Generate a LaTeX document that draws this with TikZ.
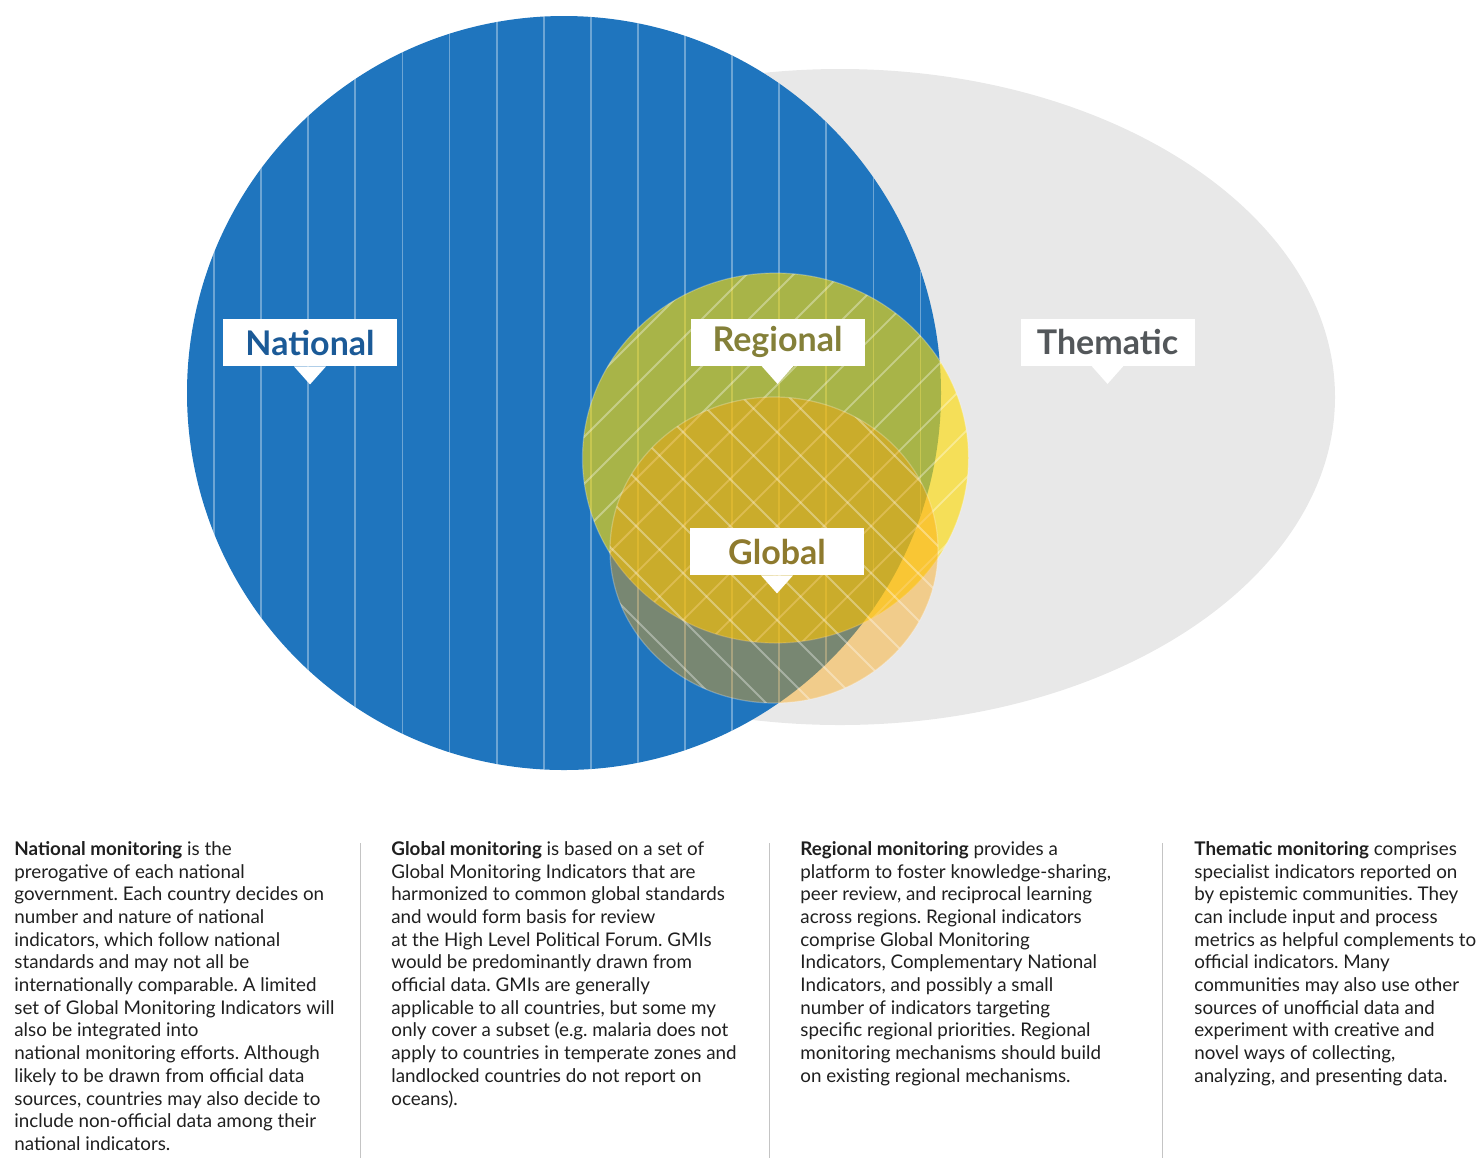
\documentclass[tikz,border=0pt]{standalone}
\usepackage{fontspec}
\setmainfont{Lato}
\usepackage{tikz}
\usetikzlibrary{positioning,calc}
\definecolor{natBlue}{HTML}{1F75BE}
\definecolor{natText}{HTML}{1B5A97}
\definecolor{thmGrey}{HTML}{E8E8E8}
\definecolor{thmText}{HTML}{53575A}
\definecolor{regYellow}{HTML}{FDDB00}
\definecolor{gloOrange}{HTML}{FFA200}
\definecolor{regText}{HTML}{848039}
\definecolor{gloText}{HTML}{8E7A2E}
\definecolor{sepGrey}{HTML}{C4C4C4}
\newcommand\tagtip[1]{\fill[white] ([xshift=-8pt]#1.south) -- ([xshift=8pt]#1.south) -- ([yshift=-9pt]#1.south) -- cycle;}
\frenchspacing

\begin{document}
\begin{tikzpicture}[x=0.5pt, y=-0.5pt,
  tag/.style={fill=white, minimum width=87pt, minimum height=23.5pt, inner sep=0pt, font=\fontsize{17}{20}\selectfont\bfseries},
  hatch/.style={white, opacity=0.35, line width=0.9pt},
  rim/.style={white, opacity=0.25, line width=0.6pt},
  blurb/.style={anchor=north west, inner sep=0pt, align=left, text=black!88, font=\fontsize{9.4}{11.35}\selectfont},
  sep/.style={draw=sepGrey, line width=0.5pt}]
\useasboundingbox (0,0) rectangle (1483,1169);
\coordinate (thmC) at (840,397);
\coordinate (natC) at (564,393);
\coordinate (regC) at (775.5,458);
\coordinate (gloC) at (774,550);
% --- thematic: grey ellipse ---
\fill[thmGrey] (thmC) ellipse [x radius=247.5pt, y radius=164pt];
% --- national: blue circle, vertical stripes ---
\fill[natBlue] (natC) circle [radius=188.5pt];
\begin{scope}
  \clip (natC) circle [radius=188.5pt];
  \foreach \k in {0,...,15} \draw[hatch] (214+47.1*\k,0) -- (214+47.1*\k,800);
\end{scope}
% --- regional: yellow circle, / stripes ---
\fill[regYellow, opacity=0.62] (regC) ellipse [x radius=96.5pt, y radius=92.5pt];
\begin{scope}
  \clip (regC) ellipse [x radius=96.5pt, y radius=92.5pt];
  \foreach \k in {-6,...,7} {
    \pgfmathsetmacro\c{1209+47*\k}
    \draw[hatch] (\c-700,700) -- (\c-200,200);
  }
\end{scope}
\draw[rim] (regC) ellipse [x radius=96.5pt, y radius=92.5pt];
% --- global: orange ellipse, \ stripes ---
\fill[gloOrange, opacity=0.4] (gloC) ellipse [x radius=82pt, y radius=76.5pt];
\begin{scope}
  \clip (gloC) ellipse [x radius=82pt, y radius=76.5pt];
  \foreach \k in {-8,...,3} {
    \pgfmathsetmacro\c{345+47*\k}
    \draw[hatch] (\c+300,300) -- (\c+800,800);
  }
\end{scope}
\draw[rim] (gloC) ellipse [x radius=82pt, y radius=76.5pt];
% --- tags ---
\node[tag, text=natText] (nat) at (310,342.5) {National};
\tagtip{nat}
\node[tag, text=regText] (reg) at (777.5,342) {Regional};
\tagtip{reg}
\node[tag, text=gloText] (glo) at (777,551.5) {Global};
\tagtip{glo}
\node[tag, text=thmText] (thm) at (1107.5,342) {Thematic};
\tagtip{thm}
% --- texts ---
\node[blurb] (natTxt) at (14,841) {\textbf{National monitoring} is the\\
prerogative of each national\\
government. Each country decides on\\
number and nature of national\\
indicators, which follow national\\
standards and may not all be\\
internationally comparable. A limited\\
set of Global Monitoring Indicators will\\
also be integrated into\\
national monitoring efforts. Although\\
likely to be drawn from official data\\
sources, countries may also decide to\\
include non-official data among their\\
national indicators.};
\node[blurb] (gloTxt) at (391,841) {\textbf{Global monitoring} is based on a set of\\
Global Monitoring Indicators that are\\
harmonized to common global standards\\
and would form basis for review\\
at the High Level Political Forum. GMIs\\
would be predominantly drawn from\\
official data. GMIs are generally\\
applicable to all countries, but some my\\
only cover a subset (e.g. malaria does not\\
apply to countries in temperate zones and\\
landlocked countries do not report on\\
oceans).};
\node[blurb] (regTxt) at (800,841) {\textbf{Regional monitoring} provides a\\
platform to foster knowledge-sharing,\\
peer review, and reciprocal learning\\
across regions. Regional indicators\\
comprise Global Monitoring\\
Indicators, Complementary National\\
Indicators, and possibly a small\\
number of indicators targeting\\
specific regional priorities. Regional\\
monitoring mechanisms should build\\
on existing regional mechanisms.};
\node[blurb] (thmTxt) at (1194,841) {\textbf{Thematic monitoring} comprises\\
specialist indicators reported on\\
by epistemic communities. They\\
can include input and process\\
metrics as helpful complements to\\
official indicators. Many\\
communities may also use other\\
sources of unofficial data and\\
experiment with creative and\\
novel ways of collecting,\\
analyzing, and presenting data.};
% --- separators ---
\draw[sep] (360,843) -- (360,1158);
\draw[sep] (769,843) -- (769,1158);
\draw[sep] (1162,843) -- (1162,1158);
\end{tikzpicture}
\end{document}
